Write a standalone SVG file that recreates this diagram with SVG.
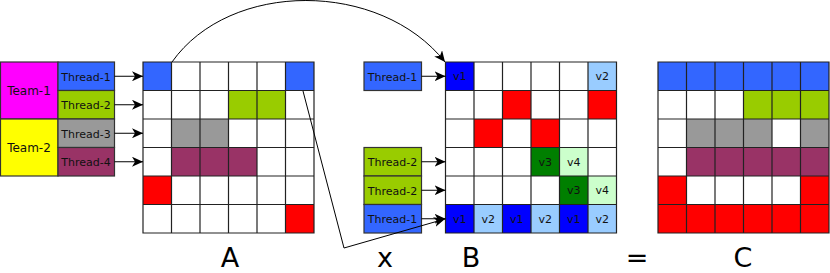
<svg xmlns="http://www.w3.org/2000/svg" width="830" height="273" viewBox="0 0 830 273">
<defs>
<marker id="ah" markerWidth="12" markerHeight="10" refX="11" refY="5" orient="auto" markerUnits="userSpaceOnUse">
<path d="M0,0 L11,5 L0,10 L3,5 Z" fill="#000"/>
</marker>
</defs>
<style>
.c{stroke:#222;stroke-width:1.2}
.w{fill:#fff}.bl{fill:#3366ff}.gr{fill:#99cc00}.gy{fill:#999999}.mr{fill:#993366}.rd{fill:#ff0000}
.db{fill:#0000ff}.lb{fill:#99ccff}.dg{fill:#007f00}.lg{fill:#ccffcc}
.bx{stroke:#333;stroke-width:1.2}
text{font-family:"DejaVu Sans",sans-serif;fill:#111}
.t{font-size:11px;text-anchor:middle}
.tm{font-size:12px;text-anchor:middle}
.v{font-size:11px;text-anchor:middle}
.big{font-size:27px;text-anchor:middle;fill:#000}
.ln{fill:none;stroke:#000;stroke-width:1}
</style>
<g id="teams">
<g id="team1"><rect x="0.5" y="62" width="57.5" height="57" fill="#ff00ff" class="bx"/><text class="tm" x="29" y="95">Team-1</text></g>
<g id="team2"><rect x="0.5" y="119" width="57.5" height="57" fill="#ffff00" class="bx"/><text class="tm" x="29" y="152">Team-2</text></g>
<g id="a-thread1"><rect x="58" y="62" width="56.5" height="28.5" class="bx bl"/><text class="t" x="86" y="80.5">Thread-1</text></g>
<g id="a-thread2"><rect x="58" y="90.5" width="56.5" height="28.5" class="bx gr"/><text class="t" x="86" y="109">Thread-2</text></g>
<g id="a-thread3"><rect x="58" y="119" width="56.5" height="28.5" class="bx gy"/><text class="t" x="86" y="137.5">Thread-3</text></g>
<g id="a-thread4"><rect x="58" y="147.5" width="56.5" height="28.5" class="bx mr"/><text class="t" x="86" y="166">Thread-4</text></g>
</g>
<g id="matrixA">
<rect x="143" y="62" width="171" height="171" class="w"/>
<rect x="143" y="62" width="28.5" height="28.5" class="bl"/>
<rect x="285.5" y="62" width="28.5" height="28.5" class="bl"/>
<rect x="228.5" y="90.5" width="57" height="28.5" class="gr"/>
<rect x="171.5" y="119" width="57" height="28.5" class="gy"/>
<rect x="171.5" y="147.5" width="85.5" height="28.5" class="mr"/>
<rect x="143" y="176" width="28.5" height="28.5" class="rd"/>
<rect x="285.5" y="204.5" width="28.5" height="28.5" class="rd"/>
<path class="c" fill="none" d="M143,62H314V233H143Z M143,90.5H314 M143,119H314 M143,147.5H314 M143,176H314 M143,204.5H314 M171.5,62V233 M200,62V233 M228.5,62V233 M257,62V233 M285.5,62V233"/>
<text class="big" x="230" y="267">A</text>
</g>
<g id="b-threads">
<g id="b-thread1a"><rect x="364" y="62" width="57.5" height="28.5" class="bx bl"/><text class="t" x="392.5" y="80.5">Thread-1</text></g>
<g id="b-thread2a"><rect x="364" y="147.5" width="57.5" height="28.5" class="bx gr"/><text class="t" x="392.5" y="166">Thread-2</text></g>
<g id="b-thread2b"><rect x="364" y="176" width="57.5" height="28.5" class="bx gr"/><text class="t" x="392.5" y="194.5">Thread-2</text></g>
<g id="b-thread1b"><rect x="364" y="204.5" width="57.5" height="28.5" class="bx bl"/><text class="t" x="392.5" y="223">Thread-1</text></g>
</g>
<g id="matrixB">
<rect x="445.5" y="62" width="171" height="171" class="w"/>
<rect x="445.5" y="62" width="28.5" height="28.5" class="db"/>
<rect x="588" y="62" width="28.5" height="28.5" class="lb"/>
<rect x="502.5" y="90.5" width="28.5" height="28.5" class="rd"/>
<rect x="588" y="90.5" width="28.5" height="28.5" class="rd"/>
<rect x="474" y="119" width="28.5" height="28.5" class="rd"/>
<rect x="531" y="119" width="28.5" height="28.5" class="rd"/>
<rect x="531" y="147.5" width="28.5" height="28.5" class="dg"/>
<rect x="559.5" y="147.5" width="28.5" height="28.5" class="lg"/>
<rect x="559.5" y="176" width="28.5" height="28.5" class="dg"/>
<rect x="588" y="176" width="28.5" height="28.5" class="lg"/>
<rect x="445.5" y="204.5" width="28.5" height="28.5" class="db"/>
<rect x="474" y="204.5" width="28.5" height="28.5" class="lb"/>
<rect x="502.5" y="204.5" width="28.5" height="28.5" class="db"/>
<rect x="531" y="204.5" width="28.5" height="28.5" class="lb"/>
<rect x="559.5" y="204.5" width="28.5" height="28.5" class="db"/>
<rect x="588" y="204.5" width="28.5" height="28.5" class="lb"/>
<path class="c" fill="none" d="M445.5,62H616.5V233H445.5Z M445.5,90.5H616.5 M445.5,119H616.5 M445.5,147.5H616.5 M445.5,176H616.5 M445.5,204.5H616.5 M474,62V233 M502.5,62V233 M531,62V233 M559.5,62V233 M588,62V233"/>
<g class="v">
<text x="459.75" y="80">v1</text><text x="602.25" y="80">v2</text>
<text x="545.25" y="165.5">v3</text><text x="573.75" y="165.5">v4</text>
<text x="573.75" y="194">v3</text><text x="602.25" y="194">v4</text>
<text x="459.75" y="222.5">v1</text><text x="488.25" y="222.5">v2</text><text x="516.75" y="222.5">v1</text><text x="545.25" y="222.5">v2</text><text x="573.75" y="222.5">v1</text><text x="602.25" y="222.5">v2</text>
</g>
<text class="big" x="471" y="267">B</text>
</g>
<g id="ops">
<text class="big" x="385" y="267">x</text>
<text class="big" x="637" y="267">=</text>
</g>
<g id="matrixC">
<rect x="658" y="62" width="171" height="171" class="w"/>
<rect x="658" y="62" width="171" height="28.5" class="bl"/>
<rect x="743.5" y="90.5" width="85.5" height="28.5" class="gr"/>
<rect x="686.5" y="119" width="85.5" height="28.5" class="gy"/>
<rect x="800.5" y="119" width="28.5" height="28.5" class="gy"/>
<rect x="686.5" y="147.5" width="142.5" height="28.5" class="mr"/>
<rect x="658" y="176" width="28.5" height="28.5" class="rd"/>
<rect x="800.5" y="176" width="28.5" height="28.5" class="rd"/>
<rect x="658" y="204.5" width="171" height="28.5" class="rd"/>
<path class="c" fill="none" d="M658,62H829V233H658Z M658,90.5H829 M658,119H829 M658,147.5H829 M658,176H829 M658,204.5H829 M686.5,62V233 M715,62V233 M743.5,62V233 M772,62V233 M800.5,62V233"/>
<text class="big" x="743" y="267">C</text>
</g>
<g id="connectors">
<line class="ln" x1="114.5" y1="76.25" x2="143" y2="76.25" marker-end="url(#ah)" stroke="#444"/>
<line class="ln" x1="114.5" y1="104.75" x2="143" y2="104.75" marker-end="url(#ah)"/>
<line class="ln" x1="114.5" y1="133.25" x2="143" y2="133.25" marker-end="url(#ah)" stroke="#444"/>
<line class="ln" x1="114.5" y1="161.75" x2="143" y2="161.75" marker-end="url(#ah)"/>
<line class="ln" x1="421.5" y1="76.25" x2="445.5" y2="76.25" marker-end="url(#ah)" stroke="#444"/>
<line class="ln" x1="421.5" y1="161.75" x2="445.5" y2="161.75" marker-end="url(#ah)"/>
<line class="ln" x1="421.5" y1="190.25" x2="445.5" y2="190.25" marker-end="url(#ah)" stroke="#444"/>
<line class="ln" x1="421.5" y1="218.75" x2="445.5" y2="218.75" marker-end="url(#ah)"/>
<path class="ln" d="M172,62 C230,-20 380,-20 445,62" marker-end="url(#ah)"/>
<path class="ln" d="M303,91 L344,248 L445,219" marker-end="url(#ah)"/>
</g>
</svg>
